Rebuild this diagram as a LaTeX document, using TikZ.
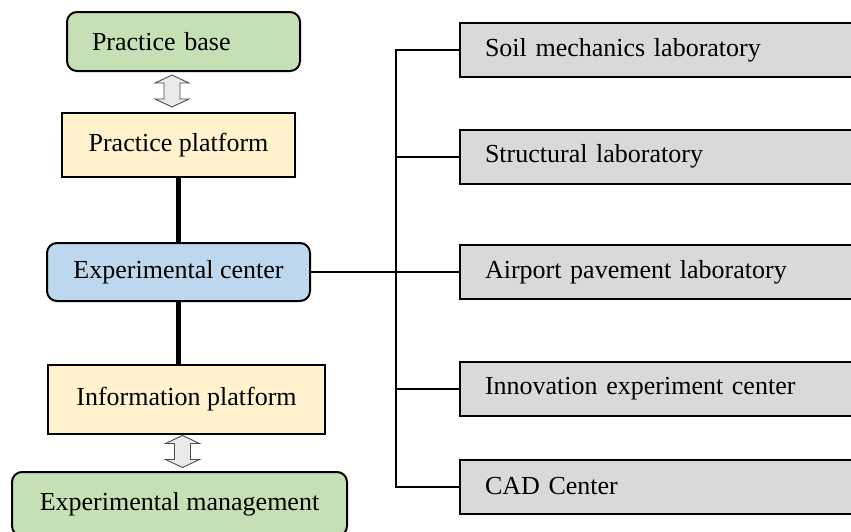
\documentclass[tikz,border=0pt]{standalone}
\usepackage{fontspec}
\setmainfont{Liberation Serif}
\usetikzlibrary{calc}
\definecolor{greenbox}{HTML}{C5E0B4}
\definecolor{yellowbox}{HTML}{FFF2CC}
\definecolor{bluebox}{HTML}{BDD7EE}
\definecolor{graybox}{HTML}{D9D9D9}
\definecolor{arrowfill}{HTML}{EAEAEA}
\begin{document}
\begin{tikzpicture}[x=1pt,y=-1pt,
  box/.style={draw=black, line width=2pt, inner ysep=0pt, inner xsep=0pt,
    font=\fontsize{26}{30}\selectfont},
  rbox/.style={box, rounded corners=10pt},
  labbox/.style={box, fill=graybox, minimum height=54pt, text width=360pt, inner xsep=25pt, align=left},
  thin/.style={line width=2pt},
  thick/.style={line width=5pt},
  dblarrow/.style={draw=black!70, fill=arrowfill, line width=0.9pt, line join=miter}
]
\useasboundingbox (0,0) rectangle (851,531);
\clip (0,0) rectangle (851,531);

% left column
\node[rbox, fill=greenbox, minimum height=59pt, text width=183pt, inner xsep=25pt, align=left] (pb) at (183.5,41.5) {Practice base};
\node[box, fill=yellowbox, minimum width=233pt, minimum height=64pt] (pp) at (178.5,145) {Practice platform};
\node[rbox, fill=bluebox, minimum width=263pt, minimum height=58pt] (ec) at (178.5,272) {Experimental center};
\node[box, fill=yellowbox, minimum width=277pt, minimum height=69pt] (ip) at (186.5,399.5) {Information platform};
\node[rbox, fill=greenbox, minimum width=335pt, minimum height=64pt] (em) at (179.5,504) {Experimental management};

% right column
\node[labbox] (soil) at (665,50) {Soil mechanics laboratory};
\node[labbox] (st) at (665,156.5) {Structural laboratory};
\node[labbox] (ap) at (665,272) {Airport pavement laboratory};
\node[labbox] (inn) at (665,388.5) {Innovation experiment center};
\node[labbox] (cad) at (665,486.5) {CAD Center};

% double arrows
\coordinate (a1) at (172,91);
\coordinate (a2) at (182.5,451.5);
\foreach \c in {a1,a2}{
  \draw[dblarrow] (\c) ++(0,-16) -- ++(17,8) -- ++(-9,0) -- ++(0,16) -- ++(9,0)
    -- ++(-17,8) -- ++(-17,-8) -- ++(9,0) -- ++(0,-16) -- ++(-9,0) -- cycle;
}

% thick links
\draw[thick] (pp.south) -- (ec.north);
\draw[thick] (ec.south) -- (ec.south |- ip.north);

% bus
\coordinate (bt) at (396,50);
\coordinate (bb) at (396,486.5);
\draw[thin] (soil.west) -- (bt) -- (bb) -- (cad.west);
\draw[thin] (st.west) -- (st.west -| bt);
\draw[thin] (inn.west) -- (inn.west -| bt);
\draw[thin] (ec.east) -- (ap.west);
\end{tikzpicture}
\end{document}
